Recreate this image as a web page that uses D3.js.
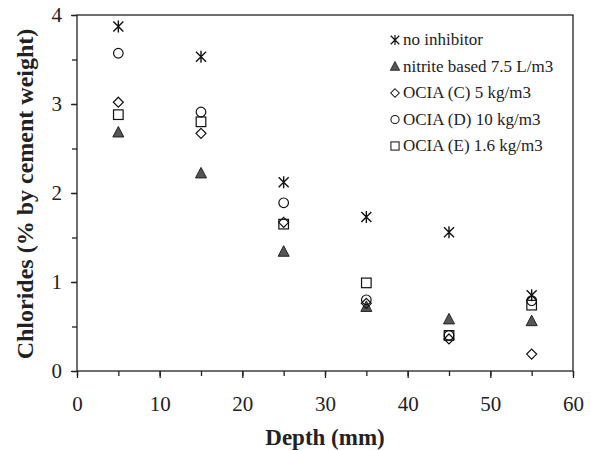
<!DOCTYPE html>
<html>
<head>
<meta charset="utf-8">
<script src="https://cdn.jsdelivr.net/npm/d3@7"></script>
<style>
  body { margin: 0; background: #fff; }
  svg text { font-family: "Liberation Serif", "Times New Roman", serif; fill: #222; }
</style>
</head>
<body>
<svg id="main" width="591" height="450"></svg>
<script>
// data
depths = [5, 15, 25, 35, 45, 55];
noInhibitor = [3.87, 3.53, 2.12, 1.73, 1.56, 0.85];
nitrite = [2.68, 2.22, 1.34, 0.72, 0.58, 0.56];
ociaC = [3.02, 2.67, 1.67, 0.76, 0.36, 0.19];
ociaD = [3.57, 2.91, 1.89, 0.80, 0.40, 0.79];
ociaE = [2.88, 2.80, 1.65, 0.99, 0.40, 0.74];
seriesNames = ["no inhibitor", "nitrite based 7.5 L/m3", "OCIA (C) 5 kg/m3", "OCIA (D) 10 kg/m3", "OCIA (E) 1.6 kg/m3"];
xTicks = [0, 10, 20, 30, 40, 50, 60];
yTicks = [0, 1, 2, 3, 4];

var series = [
    {name: seriesNames[0], values: noInhibitor, shape: "star"},
    {name: seriesNames[1], values: nitrite, shape: "triangle"},
    {name: seriesNames[2], values: ociaC, shape: "diamond"},
    {name: seriesNames[3], values: ociaD, shape: "circle"},
    {name: seriesNames[4], values: ociaE, shape: "square"}
];

// plot box (note: "top" is reserved on window, so use other names)
var plotL = 77, plotR = 573, plotT = 15, plotB = 371;
var svg = d3.select("svg#main");

var x = d3.scaleLinear().domain([0, 60]).range([plotL, plotR]);
var y = d3.scaleLinear().domain([0, 4]).range([plotB, plotT]);

// frame
svg.append("rect")
    .attr("x", plotL).attr("y", plotT)
    .attr("width", plotR - plotL).attr("height", plotB - plotT)
    .attr("fill", "none").attr("stroke", "#222").attr("stroke-width", 1.3);

// x axis, minor ticks every 5
var xAxis = svg.append("g").attr("transform", "translate(0," + plotB + ")");
xAxis.append("g").call(d3.axisBottom(x).tickValues(d3.range(0, 61, 5)).tickSize(5).tickFormat(""));
xAxis.append("g").call(d3.axisBottom(x).tickValues(xTicks).tickSize(7).tickPadding(18).tickFormat(d3.format("d")));
xAxis.selectAll("path").remove();
xAxis.selectAll("line").attr("stroke", "#222").attr("stroke-width", 1.3);
xAxis.selectAll("text").style("font-size", "21px").attr("fill", "#222");

var yAxis = svg.append("g").attr("transform", "translate(" + plotL + ",0)");
yAxis.append("g").call(d3.axisLeft(y).tickValues(d3.range(0, 4.01, 0.5)).tickSize(5).tickFormat(""));
yAxis.append("g").call(d3.axisLeft(y).tickValues(yTicks).tickSize(6).tickPadding(9).tickFormat(d3.format("d")));
yAxis.selectAll("path").remove();
yAxis.selectAll("line").attr("stroke", "#222").attr("stroke-width", 1.3);
yAxis.selectAll("text").style("font-size", "21px").attr("fill", "#222");

// axis titles
svg.append("text")
    .attr("x", (plotL + plotR) / 2).attr("y", 445)
    .attr("text-anchor", "middle")
    .style("font-size", "23px").style("font-weight", "bold")
    .text("Depth (mm)");

svg.append("text")
    .attr("transform", "translate(33,194) rotate(-90)")
    .attr("text-anchor", "middle")
    .style("font-size", "24px").style("font-weight", "bold")
    .text("Chlorides (% by cement weight)");

function drawMarker(g, shape) {
    if (shape == "star") {
        g.append("path")
            .attr("d", "M-5,-5L5,5M-5,5L5,-5M0,-6L0,6")
            .attr("stroke", "#111").attr("stroke-width", 1.4).attr("fill", "none");
    } else if (shape == "triangle") {
        g.append("path")
            .attr("d", "M0,-6L5.5,4.5L-5.5,4.5Z")
            .attr("fill", "#555").attr("stroke", "#222").attr("stroke-width", 1);
    } else if (shape == "diamond") {
        g.append("path")
            .attr("d", "M0,-5L5,0L0,5L-5,0Z")
            .attr("fill", "none").attr("stroke", "#111").attr("stroke-width", 1.2);
    } else if (shape == "circle") {
        g.append("circle").attr("r", 4.8)
            .attr("fill", "none").attr("stroke", "#111").attr("stroke-width", 1.2);
    } else if (shape == "square") {
        g.append("rect").attr("x", -4.8).attr("y", -4.8).attr("width", 9.6).attr("height", 9.6)
            .attr("fill", "none").attr("stroke", "#111").attr("stroke-width", 1.2);
    }
}

// points
series.forEach(function (s) {
    svg.append("g").selectAll("g.pt")
        .data(s.values)
        .enter()
        .append("g")
        .attr("class", "pt")
        .attr("transform", function (d, i) { return "translate(" + x(depths[i]) + "," + y(d) + ")"; })
        .each(function () { drawMarker(d3.select(this), s.shape); });
});

// legend
var legend = svg.append("g").attr("transform", "translate(395,40)");
series.forEach(function (s, i) {
    var row = legend.append("g").attr("transform", "translate(0," + i * 26.5 + ")");
    drawMarker(row.append("g").attr("transform", "scale(0.85)"), s.shape);
    row.append("text").attr("x", 8).attr("y", 5)
        .style("font-size", "17px")
        .text(s.name);
});
</script>
</body>
</html>
